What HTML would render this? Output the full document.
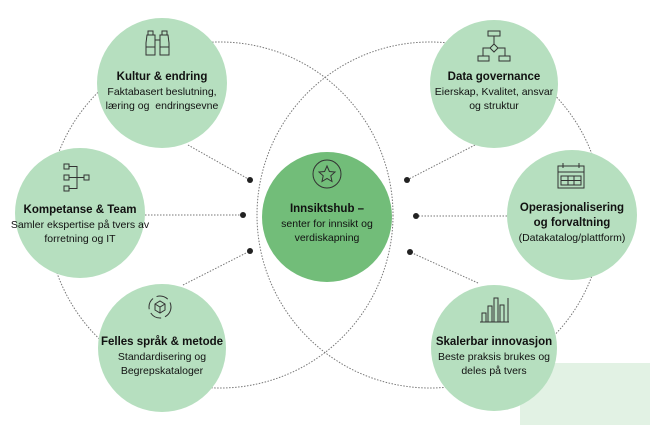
<!DOCTYPE html>
<html><head><meta charset="utf-8"><style>
html,body{margin:0;padding:0;background:#fff;}
body{width:650px;height:425px;position:relative;overflow:hidden;font-family:"Liberation Sans",sans-serif;color:#111;}
svg{position:absolute;left:0;top:0;}
.t{position:absolute;text-align:center;font-size:10.5px;line-height:14px;width:150px;}
.t b{font-size:11.5px;display:block;line-height:15px;}
</style></head><body>
<svg width="650" height="425" viewBox="0 0 650 425">
<rect x="520" y="363" width="130" height="62" fill="#e2f2e4"/>
<g fill="none" stroke="#777" stroke-width="1" stroke-dasharray="1.5 1.5">
<circle cx="220" cy="215" r="173"/>
<circle cx="430" cy="215" r="173"/>
<line x1="188" y1="145" x2="250" y2="180"/>
<line x1="145" y1="215" x2="243" y2="215"/>
<line x1="183" y1="285" x2="250" y2="251"/>
<line x1="475" y1="145" x2="407" y2="180"/>
<line x1="507" y1="216" x2="416" y2="216"/>
<line x1="478" y1="283" x2="410" y2="252"/>
</g>
<g fill="#222"><circle cx="250" cy="180" r="3"/><circle cx="243" cy="215" r="3"/><circle cx="250" cy="251" r="3"/>
<circle cx="407" cy="180" r="3"/><circle cx="416" cy="216" r="3"/><circle cx="410" cy="252" r="3"/></g>
<g fill="#b6dfbf">
<circle cx="162" cy="83" r="65"/><circle cx="80" cy="213" r="65"/><circle cx="162" cy="348" r="64"/>
<circle cx="494" cy="84" r="64"/><circle cx="572" cy="215" r="65"/><circle cx="494" cy="348" r="63"/>
</g>
<circle cx="327" cy="217" r="65" fill="#72bd79"/>
<g fill="none" stroke="#333" stroke-width="1">
<!-- star icon -->
<circle cx="327" cy="174" r="14"/>
<polygon points="327,166 329.4,171.5 335,172 330.8,175.8 332,181.5 327,178.5 322,181.5 323.2,175.8 319,172 324.6,171.5"/>
<!-- binoculars -->
<rect x="148" y="31" width="5" height="4"/><rect x="162" y="31" width="5" height="4"/>
<path d="M147 35h8v20h-9v-12z M160 35h8l1 8v12h-9z M155 40h5 M146 47h9 M160 47h9"/>
<!-- hierarchy -->
<rect x="64" y="164" width="5" height="5"/><rect x="64" y="175" width="5" height="5"/><rect x="64" y="186" width="5" height="5"/><rect x="84" y="175" width="5" height="5"/>
<path d="M69 166.5h8v22h-8 M69 177.5h15"/>
<!-- cycle box -->
<circle cx="160" cy="307" r="11" stroke-dasharray="12 4"/>
<path d="M155 304l5-3 5 3v6l-5 3-5-3z M155 304l5 3 5-3 M160 307v6"/>
<!-- flowchart -->
<rect x="488" y="31" width="12" height="5"/><path d="M494 36v8 M494 44l4 4-4 4-4-4z M490 48h-7v8 M498 48h7v8"/>
<rect x="478" y="56" width="11" height="5"/><rect x="499" y="56" width="11" height="5"/>
<!-- calendar -->
<rect x="558" y="166" width="26" height="22"/><path d="M558 172h26 M563 163v5 M579 163v5 M561 176h20v9h-20z M561 180.5h20 M568 176v9 M574 176v9"/>
<!-- bar chart -->
<path d="M480 322h29 M508 298v24"/><rect x="482" y="313" width="4" height="9"/><rect x="488" y="306" width="4" height="16"/><rect x="494" y="298" width="4" height="24"/><rect x="500" y="305" width="4" height="17"/>
</g>
</svg>
<div class="t" style="left:87px;top:70px;"><b>Kultur &amp; endring</b>Faktabasert beslutning,<br>læring og&nbsp; endringsevne</div>
<div class="t" style="left:5px;top:203px;width:150px;"><b>Kompetanse &amp; Team</b>Samler ekspertise på tvers av<br>forretning og IT</div>
<div class="t" style="left:87px;top:335px;"><b>Felles språk &amp; metode</b>Standardisering og<br>Begrepskataloger</div>
<div class="t" style="left:252px;top:202px;color:#111;"><b style="font-size:11.5px;">Innsiktshub –</b>senter for innsikt og<br>verdiskapning</div>
<div class="t" style="left:419px;top:70px;"><b>Data governance</b>Eierskap, Kvalitet, ansvar<br>og struktur</div>
<div class="t" style="left:497px;top:201px;"><b>Operasjonalisering<br>og forvaltning</b>(Datakatalog/plattform)</div>
<div class="t" style="left:419px;top:335px;"><b>Skalerbar innovasjon</b>Beste praksis brukes og<br>deles på tvers</div>
</body></html>
